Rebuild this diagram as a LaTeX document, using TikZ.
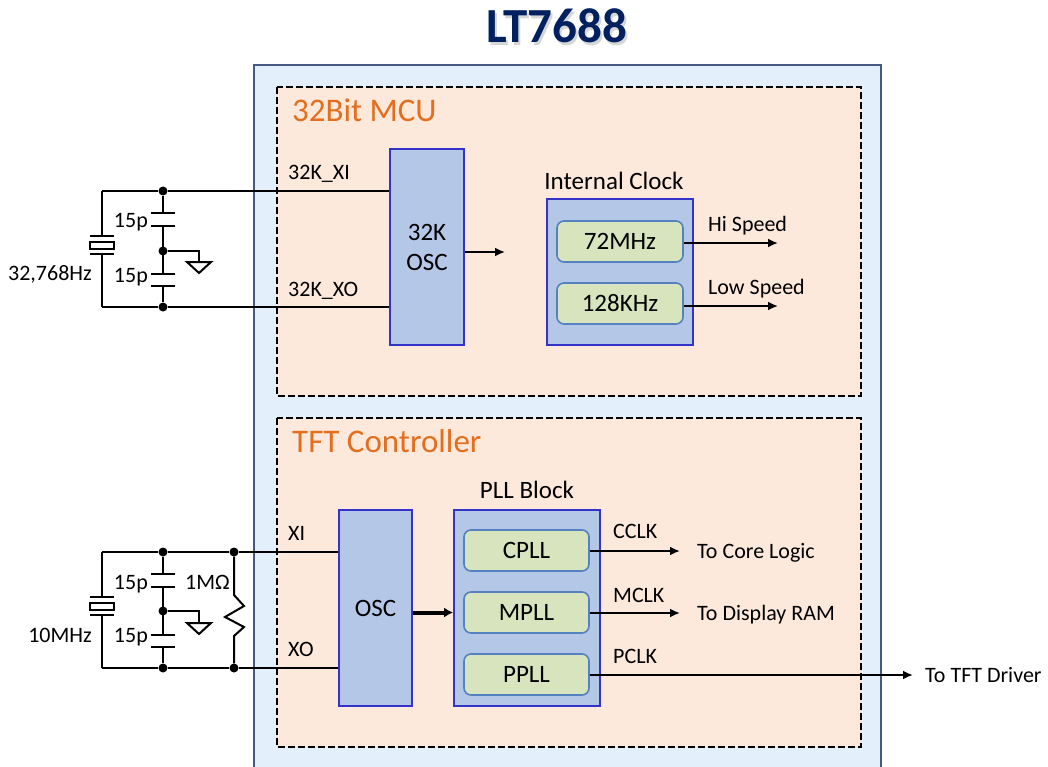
\documentclass[tikz,border=0pt]{standalone}
\usepackage{fontspec}
\setmainfont{Carlito}
\usetikzlibrary{arrows.meta,positioning}

\definecolor{chipfill}{RGB}{227,239,251}
\definecolor{chipline}{RGB}{72,88,132}
\definecolor{areafill}{RGB}{252,233,219}
\definecolor{headtxt}{RGB}{226,110,30}
\definecolor{blkfill}{RGB}{180,199,231}
\definecolor{blkline}{RGB}{51,51,204}
\definecolor{subfill}{RGB}{215,228,189}
\definecolor{subline}{RGB}{84,130,192}
\definecolor{titletxt}{RGB}{0,32,96}

\begin{document}
\begin{tikzpicture}[x=1pt,y=-1pt,
  wire/.style={line width=2pt},
  sig/.style={line width=2pt,-{Latex[length=10pt,width=9pt]}},
  bigsig/.style={line width=4pt,-{Latex[length=9pt,width=10pt]}},
  blk/.style={draw=blkline,fill=blkfill,line width=1.8pt,inner sep=0pt,
    font=\fontsize{25}{30}\selectfont,align=center},
  sub/.style={draw=subline,fill=subfill,line width=1.6pt,rounded corners=7pt,
    minimum width=126,minimum height=41,inner sep=0pt,font=\fontsize{25}{30}\selectfont},
  area/.style={draw=black,fill=areafill,line width=2.4pt,dash pattern=on 7pt off 3pt},
  head/.style={font=\fontsize{33}{40}\selectfont,text=headtxt,anchor=base west,inner sep=0pt},
  blkcap/.style={font=\fontsize{25}{30}\selectfont,anchor=base,inner sep=0pt},
  lbl/.style={font=\fontsize{22}{26}\selectfont,inner sep=0pt},
  dot/.style={circle,fill=black,minimum size=9,inner sep=0pt},
]
\clip (0,0) rectangle (1048,767);

% title
\node[anchor=base,inner sep=0pt,font=\fontsize{49}{58}\bfseries,text=black!40,opacity=.4] (titleshade) at (558.5,45.5) {LT7688};
\node[anchor=base,inner sep=0pt,font=\fontsize{49}{58}\bfseries,text=titletxt] (title) at (556.5,43) {LT7688};

% chip and the two areas
\draw[line width=2pt,draw=chipline,fill=chipfill] (254,65) rectangle (881,800);
\draw[area] (277,87) rectangle (861,396);
\draw[area] (277,418) rectangle (861,747);
\node[head] (mcuhead) at (292,122) {32Bit MCU};
\node[head] (tfthead) at (292,452) {TFT Controller};

% 32Bit MCU
\node[blk,minimum width=74,minimum height=196] (osca) at (427,247) {32K\\OSC};
\node[blk,minimum width=146,minimum height=146] (clk) at (620,272) {};
\node[blkcap] (clkcap) at (614,190) {Internal Clock};
\node[sub] (fast) at (620,241.5) {72MHz};
\node[sub] (slow) at (620,303.5) {128KHz};
\coordinate (clkin) at (505,252);
\coordinate (hiend) at (778,243);
\coordinate (loend) at (778,306);
\draw[sig] (osca.east |- clkin) -- (clkin);
\draw[sig] (fast.east |- hiend) -- (hiend);
\draw[sig] (slow.east |- loend) -- (loend);
\node[lbl,anchor=base west] (hilbl) at (708,232) {Hi Speed};
\node[lbl,anchor=base west] (lolbl) at (708,294) {Low Speed};

% TFT Controller
\node[blk,minimum width=73,minimum height=196] (oscb) at (375.5,608) {OSC};
\node[blk,minimum width=146,minimum height=196] (pll) at (527,608) {};
\node[blkcap] (pllcap) at (527,498) {PLL Block};
\node[sub,minimum width=125] (cpll) at (526.5,550.5) {CPLL};
\node[sub,minimum width=125] (mpll) at (526.5,612.5) {MPLL};
\node[sub,minimum width=125] (ppll) at (526.5,674.5) {PPLL};
\draw[bigsig] (oscb.east |- mpll) -- (pll.west |- mpll);
\coordinate (cend) at (680,551);
\coordinate (mend) at (680,613);
\coordinate (pend) at (913,675);
\draw[sig] (cpll.east |- cend) -- (cend);
\draw[sig] (mpll.east |- mend) -- (mend);
\draw[sig] (ppll.east |- pend) -- (pend);
\node[lbl,anchor=base west] (cclk) at (613,538) {CCLK};
\node[lbl,anchor=base west] (mclk) at (613,602) {MCLK};
\node[lbl,anchor=base west] (pclk) at (613,663) {PCLK};
\node[lbl,anchor=base west] (tocore) at (697,558) {To Core Logic};
\node[lbl,anchor=base west] (toram) at (697,620) {To Display RAM};
\node[lbl,anchor=base west] (totft) at (925,682) {To TFT Driver};

% 32.768kHz crystal
\coordinate (xa) at (102,191);
\coordinate (xc) at (102,307);
\node[dot] (xb) at (163,191) {};
\node[dot] (xd) at (163,307) {};
\node[dot] (xm) at (163,251) {};
\draw[wire] (xa) -- (xb) -- (osca.west |- xb);
\draw[wire] (xc) -- (xd) -- (osca.west |- xd);
\draw[wire] (xa) -- (102,236);
\draw[wire] (90,236) -- (114,236);
\draw[wire] (90,241.5) rectangle (114,249);
\draw[wire] (90,254) -- (114,254);
\draw[wire] (102,254) -- (xc);
\draw[wire] (xb) -- (163,213);
\draw[wire] (151,213) -- (175,213);
\draw[wire] (151,226) -- (175,226);
\draw[wire] (163,226) -- (163,274);
\draw[wire] (151,274) -- (175,274);
\draw[wire] (151,286) -- (175,286);
\draw[wire] (163,286) -- (xd);
\draw[wire] (xm) -- (199,251) -- (199,262);
\draw[wire,line join=miter] (187,262) -- (211,262) -- (199,273) -- cycle;
\node[lbl,anchor=base east] (c1lbl) at (148,228) {15p};
\node[lbl,anchor=base east] (c2lbl) at (148,282) {15p};
\node[lbl,anchor=base east] (x1lbl) at (92,280) {32,768Hz};
\node[lbl,anchor=base west] (xilbl) at (288,180) {32K\_XI};
\node[lbl,anchor=base west] (xolbl) at (288,296) {32K\_XO};

% 10MHz crystal
\coordinate (ya) at (102,552);
\coordinate (yc) at (102,668);
\node[dot] (yb) at (163,552) {};
\node[dot] (yd) at (163,668) {};
\node[dot] (ym) at (163,611) {};
\node[dot] (yr) at (234,552) {};
\node[dot] (ys) at (234,668) {};
\draw[wire] (ya) -- (yb) -- (yr) -- (oscb.west |- yr);
\draw[wire] (yc) -- (yd) -- (ys) -- (oscb.west |- ys);
\draw[wire] (ya) -- (102,597);
\draw[wire] (90,597) -- (114,597);
\draw[wire] (90,602.5) rectangle (114,610);
\draw[wire] (90,615) -- (114,615);
\draw[wire] (102,615) -- (yc);
\draw[wire] (yb) -- (163,574);
\draw[wire] (151,574) -- (175,574);
\draw[wire] (151,587) -- (175,587);
\draw[wire] (163,587) -- (163,635);
\draw[wire] (151,635) -- (175,635);
\draw[wire] (151,647) -- (175,647);
\draw[wire] (163,647) -- (yd);
\draw[wire] (ym) -- (199,611) -- (199,623);
\draw[wire,line join=miter] (187,623) -- (211,623) -- (199,634) -- cycle;
\draw[wire] (yr) -- (234,595) -- (244,606) -- (225,617) -- (244,627) -- (234,636) -- (ys);
\node[lbl,anchor=base east] (c3lbl) at (148,589) {15p};
\node[lbl,anchor=base east] (c4lbl) at (148,642) {15p};
\node[lbl,anchor=base east] (rlbl) at (230,589) {1MΩ};
\node[lbl,anchor=base east] (x2lbl) at (92,642) {10MHz};
\node[lbl,anchor=base west] (yilbl) at (288,540) {XI};
\node[lbl,anchor=base west] (yolbl) at (288,656) {XO};

\end{tikzpicture}
\end{document}
